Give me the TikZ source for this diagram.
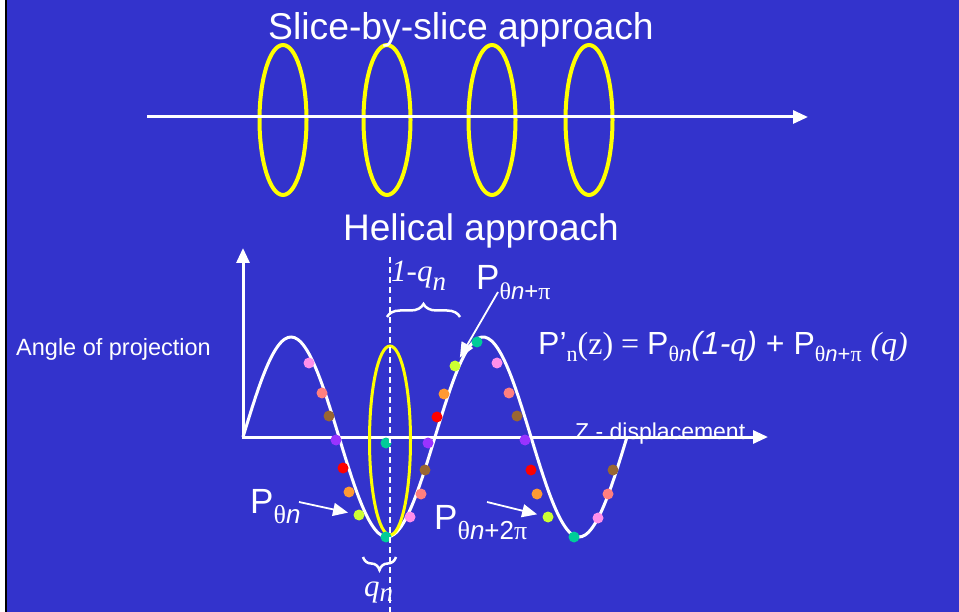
\documentclass[tikz,border=0pt]{standalone}
\usepackage{fontspec}
\setmainfont{Liberation Sans}
\newfontfamily\tms{Liberation Serif}
\usetikzlibrary{arrows.meta,decorations.pathreplacing}
\definecolor{bgBlue}{HTML}{3333CC}
\definecolor{ringY}{HTML}{FFFF00}
\definecolor{dPink}{HTML}{FF8FEA}
\definecolor{dSalmon}{HTML}{FF7F7F}
\definecolor{dBrown}{HTML}{996633}
\definecolor{dPurple}{HTML}{9933FF}
\definecolor{dTeal}{HTML}{00CC99}
\definecolor{dRed}{HTML}{FF0000}
\definecolor{dOrange}{HTML}{FF9933}
\definecolor{dLime}{HTML}{CCFF33}
\newcommand{\fsz}[1]{\fontsize{#1}{#1}\selectfont}
\newcommand{\psub}[3]{\raisebox{-#1pt}{\fsz{#2}#3}}
\tikzset{
  ring/.style={draw=ringY, line width=4pt},
  axisline/.style={draw=white, line width=3pt, -{Triangle[length=15pt,width=13pt]}},
  helix/.style={draw=white, line width=3pt},
  pdot/.style={circle, fill=#1, inner sep=0pt, minimum size=11pt},
  ptr/.style={draw=white, line width=1.8pt, -{Triangle[length=15pt,width=13pt]}},
  lbl/.style={text=white, inner sep=0pt, anchor=base west},
  brc/.style={draw=white, line width=2.5pt, decorate,
              decoration={brace, amplitude=13pt}},
}

\begin{document}
\begin{tikzpicture}[x=1pt, y=-1pt]
  \useasboundingbox (0,0) rectangle (959,612);
  % background
  \fill[white] (0,0) rectangle (959,612);
  \fill[bgBlue] (6,0) rectangle (959,612);
  \draw[black, line width=1.2pt] (6,0) -- (6,612);

  % slice-by-slice
  \foreach \cx in {283,387,492,589}
    \draw[ring] (\cx,120) ellipse [x radius=23.5, y radius=75];
  \coordinate (sStart) at (147,117);
  \coordinate (sEnd) at (808,117);
  \draw[axisline] (sStart) -- (sEnd);
  \node[lbl, font=\fsz{37.3}] (tSlice) at (268,40) {Slice-by-slice approach};

  % helical
  \node[lbl, font=\fsz{37}] (tHelix) at (343,241) {Helical approach};
  \coordinate (O) at (243,437);
  \coordinate (yTip) at (243,248);
  \coordinate (zTip) at (768,437);
  \draw[axisline] ([yshift=1.5]O) -- (yTip);
  \draw[axisline] ([xshift=-1.5]O) -- (zTip);
  \draw[helix] plot[domain=0:4, samples=120, smooth]
    ({243+96*\x}, {437-100*sin(180*\x)});
  \draw[ring, line width=3pt] (390,440.5) ellipse [x radius=20.5, y radius=94.5];

  \foreach \px/\py/\c [count=\k] in {
      309/363/dPink, 322/393/dSalmon, 329/416/dBrown, 336/440/dPurple,
      343/468/dRed, 349/492/dOrange, 359/515/dLime, 386/537/dTeal,
      386/443/dTeal, 410/517/dPink, 421/494/dSalmon, 425/470/dBrown,
      428/443/dPurple, 437/417/dRed, 444/394/dOrange, 455/366/dLime,
      477/342/dTeal, 497/363/dPink, 509/393/dSalmon, 517/416/dBrown,
      525/440/dPurple, 531/470/dRed, 537/494/dOrange, 548/517/dLime,
      574/537/dTeal, 598/518/dPink, 608/494/dSalmon, 613/470/dBrown}
    \node[pdot=\c] (dot\k) at (\px,\py) {};

  \coordinate (dTop) at (390,257);
  \coordinate (dBot) at (390,612);
  \draw[white, line width=1.3pt, dash pattern=on 6pt off 4pt] (dTop) -- (dBot);

  % braces
  \coordinate (bTl) at (387,317);
  \coordinate (bTr) at (460,317);
  \draw[brc] (bTl) -- (bTr);
  \coordinate (bBr) at (396,557);
  \coordinate (bBl) at (363,557);
  \draw[brc] (bBr) -- (bBl);
  \node[lbl, font=\fsz{31}] (tOneQ) at (391,282) {\tms\itshape 1-q\psub{9}{27}{n}};
  \node[lbl, font=\fsz{31}] (tQ) at (364,596) {\tms\itshape q\psub{5}{27}{n}};

  % labels
  \node[lbl, font=\fsz{23.5}] (tAngle) at (16,356) {Angle of projection};
  \node[lbl, font=\fsz{23}] (tZ) at (575,439) {Z - displacement};
  \node[lbl, font=\fsz{32}] (tEq) at (538,355)
    {P’\psub{7}{22}{\tms n}{\tms (z) = }P\psub{7}{22}{{\tms θ}\textit{n}}\textit{(1-{\tms q})}
     + P\psub{7}{22}{{\tms θ}\textit{n}+{\tms π}}~{\tms\itshape (q)}};
  \node[lbl, font=\fsz{35}] (tPpi) at (476,290)
    {P\psub{10}{24}{{\tms θ}\textit{n}+{\tms π}}};
  \node[lbl, font=\fsz{35}] (tPn) at (250,513)
    {P\psub{10}{26}{{\tms θ}\textit{n}}};
  \node[lbl, font=\fsz{35}] (tP2pi) at (434,529)
    {P\psub{10}{26}{{\tms θ}\textit{n}+2{\tms π}}};

  % pointers
  \coordinate (aPn) at (299,502);
  \coordinate (aPpi) at (498,292);
  \coordinate (aP2pi) at (487,502);
  \draw[ptr, shorten >=5.5pt] (aPn) -- (dot7);
  \draw[ptr, shorten >=4pt] (aPpi) -- (dot16);
  \draw[ptr, shorten >=5.5pt] (aP2pi) -- (dot24);
\end{tikzpicture}
\end{document}
